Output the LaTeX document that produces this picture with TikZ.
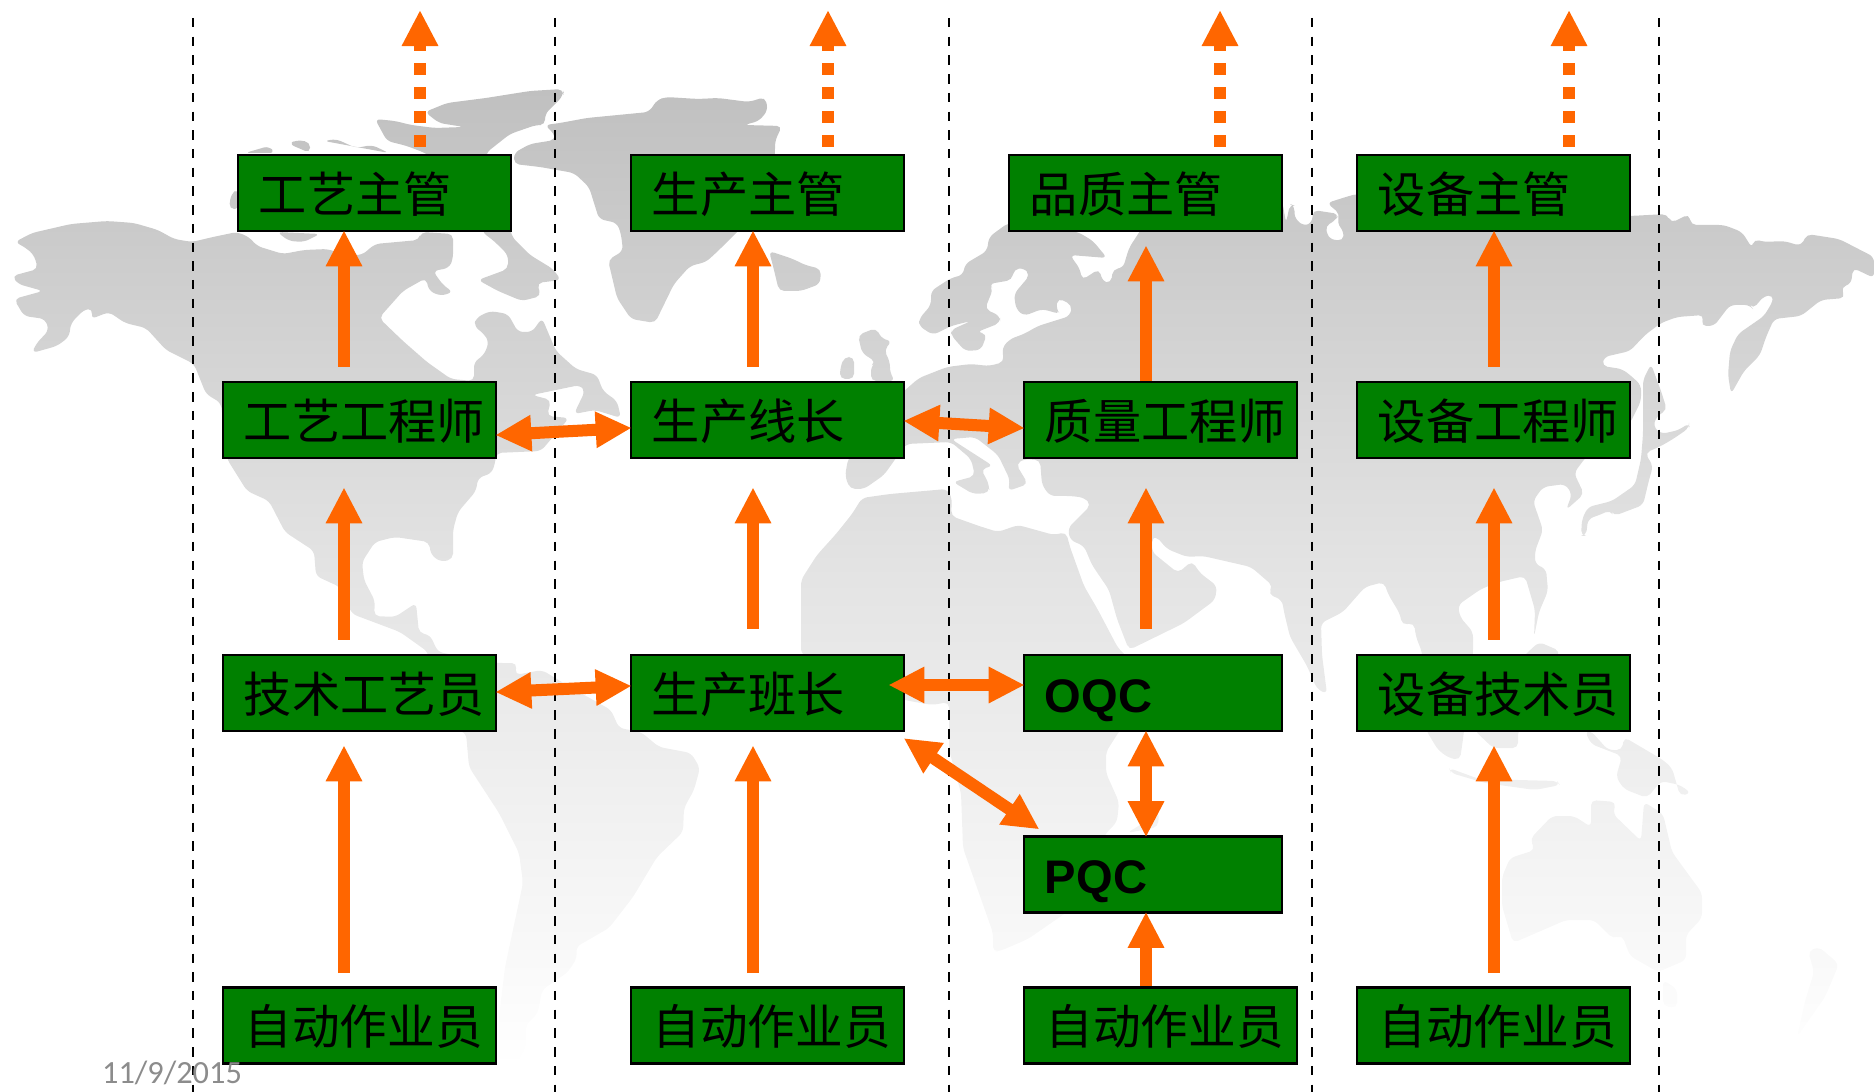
\documentclass[tikz,border=0pt]{standalone}
\usepackage{fontspec}
\usetikzlibrary{arrows.meta}
\setmainfont{Noto Sans CJK SC}
\newfontfamily\latinfont{Liberation Sans}
\newfontfamily\datefont{Carlito}
\definecolor{boxgreen}{RGB}{0,128,0}
\definecolor{flowc}{RGB}{255,102,0}
\definecolor{mapgrey}{RGB}{192,192,192}
\definecolor{mapmid}{RGB}{228,228,228}
\definecolor{dategrey}{RGB}{140,140,140}
\tikzstyle{unit}=[rectangle, draw=black, line width=.025cm, fill=boxgreen, inner xsep=.21cm, inner ysep=0pt, minimum height=.76cm, text width=2.31cm, text height=.38cm, text depth=0pt, align=left, font=\fontsize{13.7}{16}\selectfont]
\tikzstyle{narrow}=[text width=2.16cm, font=\fontsize{13.4}{16}\selectfont]
\tikzstyle{worker}=[inner xsep=.215cm, text width=2.30cm, font=\fontsize{13.55}{16}\selectfont]
\tikzstyle{upflow}=[-{Triangle[length=.36cm,width=.34cm]}, shorten >=-.02cm]
\tikzstyle{twoflow}=[{Triangle[length=.36cm,width=.34cm]}-{Triangle[length=.36cm,width=.34cm]}, shorten <=-.02cm, shorten >=-.02cm]
\tikzstyle{dashup}=[upflow, dash pattern=on .12cm off .12cm, shorten <=.07cm]
\tikzstyle{laneline}=[draw=black, line width=.025cm, dash pattern=on .095cm off .092cm]
\tikzstyle{worldmap}=[top color=mapgrey, bottom color=white, middle color=mapmid, rounded corners=1.5pt]
\tikzstyle{datelabel}=[text=dategrey, inner sep=0pt, font=\datefont\fontsize{9.2}{11}\selectfont]
\newcommand{\unit}{\node[unit]}

\begin{document}
\begin{tikzpicture}[x=0.01cm, y=-0.01cm
  ,every edge/.style={draw=flowc, line width=.12cm}
]
\useasboundingbox (0,0) rectangle (1874,1092);

\shade[worldmap]
(15,242) -- (32,233) -- (71,224) -- (107,221) -- (134,223) -- (158,230) -- (174,239) -- (192,242) -- (213,237) -- (237,232) -- (249,237) -- (257,246) -- (283,254) -- (304,250) -- (328,249) -- (344,255) -- (362,255) -- (375,244) -- (419,240) -- (421,232) -- (453,234) -- (453,259) -- (449,268) -- (433,271) -- (443,285) -- (453,292) -- (441,296) -- (429,291) -- (426,278) -- (403,291) -- (379,318) -- (403,341) -- (427,362) -- (451,379) -- (474,381) -- (474,362) -- (484,355) -- (489,342) -- (484,334) -- (474,326) -- (476,318) -- (490,311) -- (508,314) -- (518,332) -- (532,332) -- (542,318) -- (553,344) -- (556,351) -- (576,369) -- (597,375) -- (603,391) -- (617,401) -- (621,418) -- (595,410) -- (574,414) -- (585,391) -- (580,385) -- (532,395) -- (551,400) -- (547,416) -- (569,418) -- (541,451) -- (496,453) -- (496,459) -- (492,473) -- (478,478) -- (476,491) -- (458,512) -- (453,530) -- (453,559) -- (441,562) -- (431,555) -- (429,542) -- (395,537) -- (375,542) -- (362,562) -- (364,580) -- (375,601) -- (374,616) -- (395,617) -- (416,603) -- (419,633) -- (430,635) -- (438,652) -- (497,663) -- (517,663) -- (515,675) -- (542,670) -- (570,687) -- (611,710) -- (619,728) -- (641,732) -- (659,747) -- (691,753) -- (700,768) -- (694,790) -- (684,808) -- (683,832) -- (657,857) -- (633,897) -- (609,928) -- (576,947) -- (577,958) -- (568,972) -- (542,990) -- (538,1013) -- (526,1025) -- (526,1047) -- (515,1067) -- (499,1060) -- (499,1017) -- (505,967) -- (523,883) -- (519,853) -- (499,813) -- (469,767) -- (466,733) -- (440,725) -- (428,652) -- (400,632) -- (352,614) -- (340,587) -- (316,576) -- (314,551) -- (285,532) -- (269,501) -- (247,491) -- (227,459) -- (221,403) -- (206,394) -- (194,364) -- (166,350) -- (146,328) -- (125,323) -- (109,312) -- (91,319) -- (93,309) -- (85,309) -- (71,323) -- (69,337) -- (57,346) -- (32,353) -- (36,344) -- (49,330) -- (45,319) -- (24,316) -- (14,299) -- (43,291) -- (18,284) -- (12,276) -- (38,269) -- (34,255) -- (26,248) -- cycle
(375,119) -- (395,121) -- (411,125) -- (435,128) -- (464,127) -- (439,123) -- (425,112) -- (447,103) -- (486,98) -- (530,91) -- (563,89) -- (563,96) -- (545,114) -- (545,125) -- (536,125) -- (510,134) -- (486,153) -- (482,232) -- (494,241) -- (508,255) -- (508,269) -- (478,280) -- (498,291) -- (522,301) -- (541,296) -- (537,283) -- (561,280) -- (553,269) -- (530,255) -- (512,237) -- (511,232) -- (505,200) -- (425,153) -- (407,146) -- (387,141) -- cycle
(229,209) -- (231,194) -- (238,189) -- (240,209) -- cycle
(245,153) -- (269,146) -- (275,153) -- cycle
(289,144) -- (296,140) -- (310,142) -- (310,153) -- cycle
(324,141) -- (336,139) -- (356,148) -- (372,145) -- (389,153) -- cycle
(277,232) -- (289,241) -- (304,242) -- (320,234) -- cycle
(545,125) -- (560,123) -- (587,118) -- (649,112) -- (657,100) -- (666,97) -- (698,99) -- (718,98) -- (749,102) -- (765,97) -- (768,110) -- (759,121) -- (744,125) -- (782,126) -- (775,141) -- (775,153) -- (770,200) -- (738,231) -- (718,251) -- (706,262) -- (690,266) -- (674,284) -- (655,323) -- (631,319) -- (617,298) -- (608,260) -- (623,251) -- (621,234) -- (617,223) -- (599,219) -- (589,187) -- (574,173) -- (540,167) -- (514,164) -- (514,153) -- (530,144) -- (555,140) -- (555,135) -- cycle
(769,251) -- (793,259) -- (805,265) -- (821,269) -- (820,284) -- (801,291) -- (779,291) -- (773,266) -- cycle
(858,335) -- (876,328) -- (882,339) -- (892,341) -- (884,350) -- (890,362) -- (890,373) -- (895,381) -- (871,381) -- (871,366) -- (876,362) -- (862,353) -- (860,344) -- cycle
(844,357) -- (854,357) -- (854,379) -- (840,379) -- (840,369) -- cycle
(919,319) -- (931,305) -- (931,291) -- (951,278) -- (963,275) -- (965,264) -- (987,251) -- (989,237) -- (1008,223) -- (1078,232) -- (1093,241) -- (1107,258) -- (1070,255) -- (1080,269) -- (1082,280) -- (1099,269) -- (1103,282) -- (1111,283) -- (1113,269) -- (1123,268) -- (1129,248) -- (1160,200) -- (1282,200) -- (1286,223) -- (1290,204) -- (1295,206) -- (1294,217) -- (1303,226) -- (1312,223) -- (1313,210) -- (1339,214) -- (1335,221) -- (1325,226) -- (1329,239) -- (1343,241) -- (1344,232) -- (1337,223) -- (1340,214) -- (1327,203) -- (1349,196) -- (1357,194) -- (1630,216) -- (1667,214) -- (1671,223) -- (1689,214) -- (1691,225) -- (1724,225) -- (1742,232) -- (1752,248) -- (1754,239) -- (1764,242) -- (1784,241) -- (1801,246) -- (1807,234) -- (1839,239) -- (1874,257) -- (1874,278) -- (1853,268) -- (1851,284) -- (1841,287) -- (1845,298) -- (1821,300) -- (1801,316) -- (1774,319) -- (1766,337) -- (1760,355) -- (1744,371) -- (1731,394) -- (1728,375) -- (1730,351) -- (1738,334) -- (1764,316) -- (1773,301) -- (1773,295) -- (1764,296) -- (1753,309) -- (1750,305) -- (1730,305) -- (1714,326) -- (1701,326) -- (1704,315) -- (1677,317) -- (1661,323) -- (1645,335) -- (1630,351) -- (1604,357) -- (1602,366) -- (1622,369) -- (1630,375) -- (1641,385) -- (1641,401) -- (1630,423) -- (1586,457) -- (1574,473) -- (1584,494) -- (1566,510) -- (1572,494) -- (1565,484) -- (1543,487) -- (1533,501) -- (1543,530) -- (1535,551) -- (1535,564) -- (1546,569) -- (1548,591) -- (1539,612) -- (1534,637) -- (1535,610) -- (1525,576) -- (1499,582) -- (1481,589) -- (1458,605) -- (1460,617) -- (1473,632) -- (1473,653) -- (1463,739) -- (1460,760) -- (1449,758) -- (1438,750) -- (1426,730) -- (1422,652) -- (1416,637) -- (1414,623) -- (1402,625) -- (1400,614) -- (1388,594) -- (1384,582) -- (1365,587) -- (1343,612) -- (1321,623) -- (1322,655) -- (1327,694) -- (1317,689) -- (1307,666) -- (1290,637) -- (1284,612) -- (1282,600) -- (1268,594) -- (1273,586) -- (1251,567) -- (1203,556) -- (1187,557) -- (1167,549) -- (1156,536) -- (1152,538) -- (1152,552) -- (1178,573) -- (1192,561) -- (1200,573) -- (1217,586) -- (1215,600) -- (1184,623) -- (1129,650) -- (1117,619) -- (1109,590) -- (1092,565) -- (1084,546) -- (1070,540) -- (1068,528) -- (1091,505) -- (1085,498) -- (1072,496) -- (1050,496) -- (1042,485) -- (1040,460) -- (1024,459) -- (1016,464) -- (1028,484) -- (1008,491) -- (1010,480) -- (998,455) -- (975,437) -- (951,439) -- (993,466) -- (981,469) -- (989,484) -- (989,493) -- (973,494) -- (953,482) -- (975,476) -- (971,459) -- (951,442) -- (906,444) -- (884,475) -- (864,489) -- (850,489) -- (845,476) -- (848,459) -- (904,391) -- (919,378) -- (947,367) -- (971,364) -- (989,366) -- (1004,362) -- (1002,348) -- (1010,339) -- (1024,334) -- (1038,326) -- (1070,316) -- (1072,305) -- (1058,298) -- (1056,309) -- (1060,314) -- (1042,309) -- (1024,316) -- (1016,309) -- (1014,294) -- (1030,275) -- (1024,268) -- (1014,269) -- (1012,280) -- (989,284) -- (993,289) -- (985,309) -- (1000,316) -- (1000,323) -- (977,332) -- (987,334) -- (981,350) -- (965,351) -- (951,335) -- (951,330) -- (971,321) -- (951,326) -- (933,335) -- (919,326) -- cycle
(801,580) -- (817,555) -- (836,534) -- (852,514) -- (862,498) -- (890,494) -- (947,489) -- (952,498) -- (951,516) -- (979,526) -- (998,532) -- (1018,525) -- (1054,535) -- (1066,532) -- (1070,547) -- (1084,586) -- (1098,610) -- (1118,648) -- (1170,700) -- (1120,730) -- (1106,752) -- (1106,773) -- (1119,802) -- (1117,822) -- (1106,833) -- (1067,912) -- (1028,939) -- (1000,951) -- (993,952) -- (993,933) -- (963,848) -- (961,793) -- (949,750) -- (949,702) -- (932,705) -- (904,700) -- (801,654) -- cycle
(1159,812) -- (1158,827) -- (1127,833) -- (1140,825) -- cycle
(1651,364) -- (1661,391) -- (1667,410) -- (1657,416) -- (1653,426) -- (1661,434) -- (1679,430) -- (1689,423) -- (1689,428) -- (1673,439) -- (1661,446) -- (1645,453) -- (1653,466) -- (1649,480) -- (1643,505) -- (1614,516) -- (1610,510) -- (1602,514) -- (1588,519) -- (1586,536) -- (1581,536) -- (1582,519) -- (1588,507) -- (1612,501) -- (1635,485) -- (1641,459) -- (1643,434) -- (1643,398) -- (1643,380) -- cycle
(1529,651) -- (1539,642) -- (1560,651) -- (1540,700) -- (1518,731) -- (1518,748) -- (1493,748) -- (1474,730) -- (1500,680) -- cycle
(1449,768) -- (1479,779) -- (1557,781) -- (1560,785) -- (1535,790) -- (1485,783) -- (1451,773) -- cycle
(1585,731) -- (1591,744) -- (1622,756) -- (1616,777) -- (1624,789) -- (1647,798) -- (1661,781) -- (1680,785) -- (1691,793) -- (1680,796) -- (1672,768) -- (1663,760) -- (1624,737) -- (1622,750) -- (1608,750) -- (1591,731) -- cycle
(1591,800) -- (1616,802) -- (1613,814) -- (1641,841) -- (1644,802) -- (1663,814) -- (1672,852) -- (1702,893) -- (1702,918) -- (1686,935) -- (1686,960) -- (1658,972) -- (1630,956) -- (1622,935) -- (1613,939) -- (1594,920) -- (1566,920) -- (1513,943) -- (1502,906) -- (1502,877) -- (1510,858) -- (1535,850) -- (1530,839) -- (1552,816) -- (1574,816) -- (1591,827) -- cycle
(1663,980) -- (1677,989) -- (1677,1008) -- (1663,1006) -- cycle
(1808,951) -- (1819,947) -- (1839,964) -- (1825,997) -- (1797,1037) -- (1805,1001) -- (1814,972) -- cycle;

\foreach \x in {193,555,949,1312,1659}
  \draw[laneline] (\x,18) -- (\x,1092);

\unit (gymgr) at (374.5,193) {工艺主管};
\unit (gyeng) at (359.5,420) {工艺工程师};
\unit (gytech) at (359.5,693) {技术工艺员};
\unit[worker] (gyop) at (359.5,1025.5) {自动作业员};
\unit (scmgr) at (767.5,193) {生产主管};
\unit (scline) at (767.5,420) {生产线长};
\unit (scteam) at (767.5,693) {生产班长};
\unit[worker] (scop) at (767.5,1025.5) {自动作业员};
\unit (qmgr) at (1145.5,193) {品质主管};
\unit (qeng) at (1160.5,420) {质量工程师};
\unit[narrow] (oqc) at (1153,693) {\latinfont\bfseries OQC};
\unit[narrow] (pqc) at (1153,874.5) {\latinfont\bfseries PQC};
\unit[worker] (qop) at (1160.5,1025.5) {自动作业员};
\unit (sbmgr) at (1493.5,193) {设备主管};
\unit (sbeng) at (1493.5,420) {设备工程师};
\unit (sbtech) at (1493.5,693) {设备技术员};
\unit[worker] (sbop) at (1493.5,1025.5) {自动作业员};

\coordinate (ca) at (344,0);
\coordinate (cb) at (753,0);
\coordinate (cc) at (1146,0);
\coordinate (cd) at (1494,0);
\coordinate (ta) at (420,12);
\coordinate (tb) at (828,12);
\coordinate (tc) at (1220,12);
\coordinate (td) at (1569,12);

\path
(gymgr.north -| ta) edge[dashup] (ta)
(scmgr.north -| tb) edge[dashup] (tb)
(qmgr.north -| tc) edge[dashup] (tc)
(sbmgr.north -| td) edge[dashup] (td)
(gyeng.north -| ca) edge[upflow, shorten <=.14cm] (gymgr.south -| ca)
(gytech.north -| ca) edge[upflow, shorten <=.14cm, shorten >=.28cm] (gyeng.south -| ca)
(gyop.north -| ca) edge[upflow, shorten <=.13cm, shorten >=.13cm] (gytech.south -| ca)
(scline.north -| cb) edge[upflow, shorten <=.14cm] (scmgr.south -| cb)
(scteam.north -| cb) edge[upflow, shorten <=.25cm, shorten >=.28cm] (scline.south -| cb)
(scop.north -| cb) edge[upflow, shorten <=.13cm, shorten >=.13cm] (scteam.south -| cb)
(qeng.north -| cc) edge[upflow, shorten >=.13cm] (qmgr.south -| cc)
(oqc.north -| cc) edge[upflow, shorten <=.25cm, shorten >=.28cm] (qeng.south -| cc)
(oqc.south -| cc) edge[twoflow] (pqc.north -| cc)
(qop.north -| cc) edge[upflow] (pqc.south -| cc)
(sbeng.north -| cd) edge[upflow, shorten <=.14cm] (sbmgr.south -| cd)
(sbtech.north -| cd) edge[upflow, shorten <=.14cm, shorten >=.28cm] (sbeng.south -| cd)
(sbop.north -| cd) edge[upflow, shorten <=.13cm, shorten >=.13cm] (sbtech.south -| cd)
([shift={(0,15)}]gyeng.east) edge[twoflow] ([shift={(0,8)}]scline.west)
([shift={(0,1)}]scline.east) edge[twoflow] ([shift={(0,8)}]qeng.west)
([shift={(0,-1)}]gytech.east) edge[twoflow] ([shift={(0,-7)}]scteam.west)
([shift={(-15,-8)}]scteam.east) edge[twoflow] ([shift={(0,-8)}]oqc.west)
([shift={(0,7)}]scteam.south east) edge[twoflow] ([shift={(15,-7)}]pqc.north west)
;

\node[datelabel] (date) at (172,1073) {11/9/2015};
\end{tikzpicture}
\end{document}
